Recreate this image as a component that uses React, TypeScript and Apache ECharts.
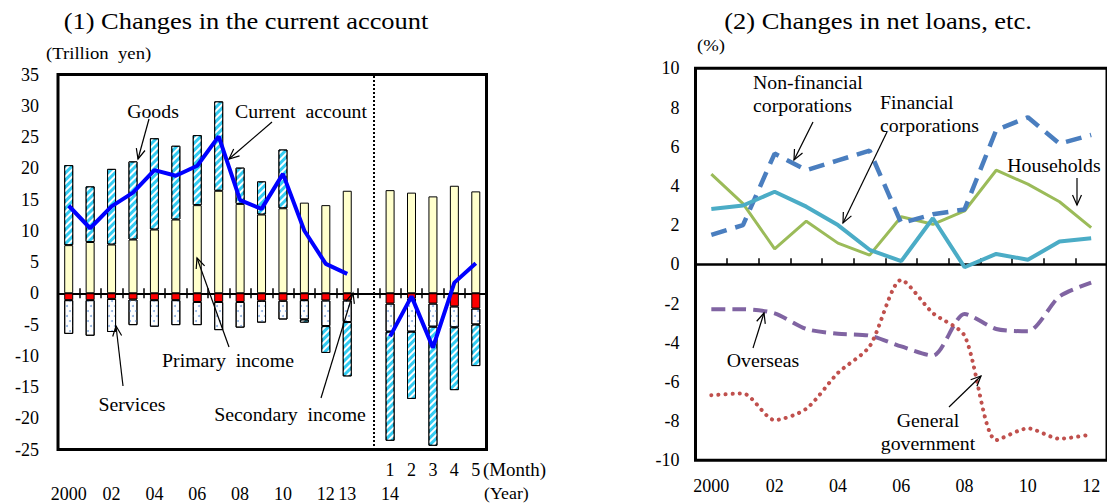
import React, { useEffect, useRef } from 'react';
import * as echarts from 'echarts';

// ---- (1) Current account, trillion yen ----
const periods = [
  '2000', '2001', '2002', '2003', '2004', '2005', '2006', '2007', '2008', '2009',
  '2010', '2011', '2012', '2013', '', '2014-1', '2014-2', '2014-3', '2014-4', '2014-5',
];
const monthRow = ['', '', '', '', '', '', '', '', '', '', '', '', '', '', '', '1', '2', '3', '4', '5'];
const yearRow = ['2000', '', '02', '', '04', '', '06', '', '08', '', '10', '', '12', '13', '', '14', '', '', '', ''];

const primaryIncome = [7.7, 8.2, 7.8, 8.6, 10.2, 11.8, 14.1, 16.4, 14.3, 12.6, 13.6, 14.5, 14.1, 16.4, null, 16.5, 16.1, 15.5, 17.2, 16.3];
const secondaryIncome = [-1.1, -1.1, -0.9, -1.0, -1.1, -1.1, -1.4, -1.4, -1.4, -1.2, -1.2, -1.1, -1.15, -1.15, null, -1.65, -0.85, -1.65, -2.1, -2.45];
const services = [-5.4, -5.7, -5.3, -4.1, -4.25, -4.0, -3.7, -4.5, -4.1, -3.5, -3.0, -3.1, -4.1, -3.45, null, -4.5, -5.3, -3.7, -3.35, -2.55];
const goods = [12.8, 8.9, 12.1, 12.5, 14.6, 11.8, 11.2, 14.3, 5.8, 5.3, 9.4, -0.5, -4.3, -8.7, null, -17.45, -10.75, -19.05, -10.05, -6.65];
const currentAccount = [14.0, 10.4, 13.9, 16.1, 19.7, 18.8, 20.4, 25.1, 14.9, 13.5, 19.1, 10.0, 4.7, 3.1, null, -6.9, -0.5, -8.7, 1.7, 4.8];

// ---- (2) Net lending by sector, % ----
const years2 = ['2000', '2001', '2002', '2003', '2004', '2005', '2006', '2007', '2008', '2009', '2010', '2011', '2012'];
const yearRow2 = ['2000', '', '02', '', '04', '', '06', '', '08', '', '10', '', '12'];
const nonFinancial = [1.5, 2.0, 5.65, 4.8, 5.3, 5.8, 2.1, 2.55, 2.8, 6.85, 7.5, 6.15, 6.6];
const financial = [2.82, 3.0, 3.7, 2.94, 2.0, 0.74, 0.16, 2.35, -0.15, 0.53, 0.23, 1.16, 1.33];
const households = [4.6, 3.1, 0.79, 2.2, 1.08, 0.47, 2.43, 2.04, 2.72, 4.8, 4.09, 3.19, 1.87];
const overseas = [-2.29, -2.29, -2.5, -3.3, -3.54, -3.64, -4.19, -4.66, -2.53, -3.3, -3.42, -1.64, -0.93];
const government = [-6.68, -6.59, -7.95, -7.37, -5.54, -4.19, -0.8, -2.49, -3.64, -8.97, -8.37, -8.9, -8.68];

const FONT = 'Liberation Serif';

type Note = { text: string; x: number; y: number; align?: string };
type Arrow = [number, number, number, number];

const notes: Note[] = [
  { text: 'Goods', x: 153, y: 112 },
  { text: 'Current  account', x: 301, y: 112 },
  { text: 'Primary  income', x: 228, y: 361 },
  { text: 'Services', x: 132, y: 405 },
  { text: 'Secondary  income', x: 290, y: 415 },
  { text: 'Non-financial\ncorporations', x: 753, y: 94, align: 'left' },
  { text: 'Financial\ncorporations', x: 880, y: 114, align: 'left' },
  { text: 'Households', x: 1054, y: 166 },
  { text: 'Overseas', x: 763, y: 361 },
  { text: 'General\ngovernment', x: 928, y: 432 },
];

const arrows: Arrow[] = [
  [149, 119, 138, 159],
  [272, 122, 229, 159],
  [229, 347, 197, 258],
  [123, 386, 116, 326],
  [321, 398, 353, 293],
  [813, 122, 794, 160],
  [887, 132, 843, 223],
  [1077, 178, 1077, 205],
  [753, 348, 764, 313],
  [949, 407, 981, 376],
];

function arrowShapes([x1, y1, x2, y2]: Arrow) {
  const ang = Math.atan2(y2 - y1, x2 - x1);
  const len = 11;
  const spread = 0.42;
  const p1 = [x2 - len * Math.cos(ang - spread), y2 - len * Math.sin(ang - spread)];
  const p2 = [x2 - len * Math.cos(ang + spread), y2 - len * Math.sin(ang + spread)];
  const style = { stroke: '#000', lineWidth: 1.2, fill: null };
  return [
    { type: 'line', z: 100, shape: { x1, y1, x2, y2 }, style },
    { type: 'polyline', z: 100, shape: { points: [p1, [x2, y2], p2] }, style },
  ];
}

function noteText(n: Note) {
  return {
    type: 'text',
    z: 100,
    x: n.x,
    y: n.y,
    scaleX: 1.1,
    style: {
      text: n.text,
      fontSize: 18,
      fontFamily: FONT,
      fill: '#000',
      align: n.align || 'center',
      verticalAlign: 'middle',
      lineHeight: 23,
    },
  };
}

function plainText(text: string, x: number, y: number, size: number, align: string, scaleX = 1) {
  return {
    type: 'text',
    z: 100,
    x,
    y,
    scaleX,
    style: { text, fontSize: size, fontFamily: FONT, fill: '#000', align, verticalAlign: 'middle' },
  };
}

const axisLabelStyle = { color: '#000', fontFamily: FONT, fontSize: 18 };
const tickStyle = { color: '#000', width: 1.5 };

function buildOption() {
  const barBase = {
    type: 'bar',
    stack: 'bop',
    xAxisIndex: 0,
    yAxisIndex: 0,
    barWidth: 9,
  };
  const border = { borderColor: '#000', borderWidth: 1 };
  return {
    animation: false,
    textStyle: { fontFamily: FONT, color: '#000' },
    grid: [
      { left: 58, top: 74.5, width: 428.5, height: 375, show: true, borderColor: '#000', borderWidth: 3 },
      { left: 695.5, top: 68.3, width: 418.6, height: 392, show: true, borderColor: '#000', borderWidth: 3 },
    ],
    xAxis: [
      {
        type: 'category', gridIndex: 0, data: periods, position: 'bottom',
        axisLine: { onZero: true, lineStyle: { color: '#000', width: 2 } },
        axisTick: { show: true, interval: 0, length: 5, lineStyle: tickStyle },
        axisLabel: { show: false }, splitLine: { show: false },
      },
      {
        type: 'category', gridIndex: 0, data: periods, position: 'top',
        axisLine: { show: false, onZero: true, onZeroAxisIndex: 0 },
        axisTick: { show: true, interval: 0, length: 5, lineStyle: tickStyle },
        axisLabel: { show: false }, splitLine: { show: false },
      },
      {
        type: 'category', gridIndex: 0, data: monthRow, position: 'bottom',
        axisLine: { show: false, onZero: false }, axisTick: { show: false },
        axisLabel: { ...axisLabelStyle, interval: 0, margin: 11 },
      },
      {
        type: 'category', gridIndex: 0, data: yearRow, position: 'bottom',
        axisLine: { show: false, onZero: false }, axisTick: { show: false },
        axisLabel: { ...axisLabelStyle, interval: 0, margin: 35 },
      },
      {
        type: 'category', gridIndex: 1, data: years2, position: 'bottom',
        axisLine: { onZero: true, lineStyle: { color: '#000', width: 2.5 } },
        axisTick: { show: true, inside: true, interval: 0, length: 6, lineStyle: tickStyle },
        axisLabel: { show: false }, splitLine: { show: false },
      },
      {
        type: 'category', gridIndex: 1, data: yearRow2, position: 'bottom',
        axisLine: { show: false, onZero: false }, axisTick: { show: false },
        axisLabel: { ...axisLabelStyle, interval: 0, margin: 17 },
      },
    ],
    yAxis: [
      {
        type: 'value', gridIndex: 0, min: -25, max: 35, interval: 5,
        axisLine: { show: false }, axisTick: { show: false }, splitLine: { show: false },
        axisLabel: { ...axisLabelStyle, margin: 19 },
      },
      {
        type: 'value', gridIndex: 1, min: -10, max: 10, interval: 2,
        axisLine: { show: false }, axisTick: { show: false }, splitLine: { show: false },
        axisLabel: { ...axisLabelStyle, margin: 16 },
      },
    ],
    series: [
      { ...barBase, name: 'Primary income', data: primaryIncome, itemStyle: { color: '#FFFFCC', ...border } },
      { ...barBase, name: 'Secondary income', data: secondaryIncome, itemStyle: { color: '#FF0000', ...border } },
      {
        ...barBase, name: 'Services', data: services,
        itemStyle: {
          color: '#FFFFFF', ...border,
          decal: {
            symbol: 'circle', symbolSize: 1, color: '#8DB0E0',
            dashArrayX: [[2, 4], [0, 3, 2, 1]], dashArrayY: [2, 3],
          },
        },
      },
      {
        ...barBase, name: 'Goods', data: goods,
        itemStyle: {
          color: '#33CCF2', ...border,
          decal: {
            symbol: 'rect', symbolSize: 1, color: '#FFFFFF',
            dashArrayX: [1, 0], dashArrayY: [2, 3], rotation: -Math.PI / 4,
          },
        },
      },
      {
        type: 'line', name: 'Current account', data: currentAccount, xAxisIndex: 0, yAxisIndex: 0,
        symbol: 'none', z: 10, connectNulls: false,
        lineStyle: { color: '#0000FF', width: 4 },
      },
      {
        type: 'line', name: 'Households', data: households, xAxisIndex: 4, yAxisIndex: 1,
        symbol: 'none', lineStyle: { color: '#9BBB59', width: 3 },
      },
      {
        type: 'line', name: 'Non-financial corporations', data: nonFinancial, xAxisIndex: 4, yAxisIndex: 1,
        symbol: 'none', lineStyle: { color: '#4A7EBF', width: 4.5, type: [16, 9] },
      },
      {
        type: 'line', name: 'Financial corporations', data: financial, xAxisIndex: 4, yAxisIndex: 1,
        symbol: 'none', z: 3, lineStyle: { color: '#4BACC6', width: 4 },
      },
      {
        type: 'line', name: 'Overseas', data: overseas, xAxisIndex: 4, yAxisIndex: 1,
        symbol: 'none', smooth: 0.25, lineStyle: { color: '#8064A2', width: 4, type: [14, 7] },
      },
      {
        type: 'line', name: 'General government', data: government, xAxisIndex: 4, yAxisIndex: 1,
        symbol: 'none', smooth: 0.25, lineStyle: { color: '#C0504D', width: 4, type: [0.1, 7], cap: 'round' },
      },
    ],
    graphic: [
      plainText('(1) Changes in the current account', 246, 21, 23, 'center', 1.15),
      plainText('(2) Changes in net loans, etc.', 878, 21, 23, 'center', 1.15),
      plainText('(Trillion  yen)', 46, 53, 17, 'left', 1.1),
      plainText('(%)', 697, 45, 17, 'left', 1.1),
      plainText('(Month)', 483, 470, 18, 'left', 1.05),
      plainText('(Year)', 484, 493, 17, 'left', 1.05),
      {
        type: 'line', z: 50,
        shape: { x1: 374, y1: 76, x2: 374, y2: 448 },
        style: { stroke: '#000', lineWidth: 2, lineDash: [2, 2] },
      },
      ...notes.map(noteText),
      ...arrows.flatMap(arrowShapes),
    ],
  };
}

export default function App() {
  const ref = useRef<HTMLDivElement>(null);
  useEffect(() => {
    if (!ref.current) return;
    const chart = echarts.init(ref.current, undefined, { renderer: 'svg' });
    chart.setOption(buildOption() as any);
    return () => chart.dispose();
  }, []);
  return (
    <div
      ref={ref}
      style={{ position: 'absolute', left: 0, top: 0, width: 1107, height: 504, background: '#fff' }}
    />
  );
}
